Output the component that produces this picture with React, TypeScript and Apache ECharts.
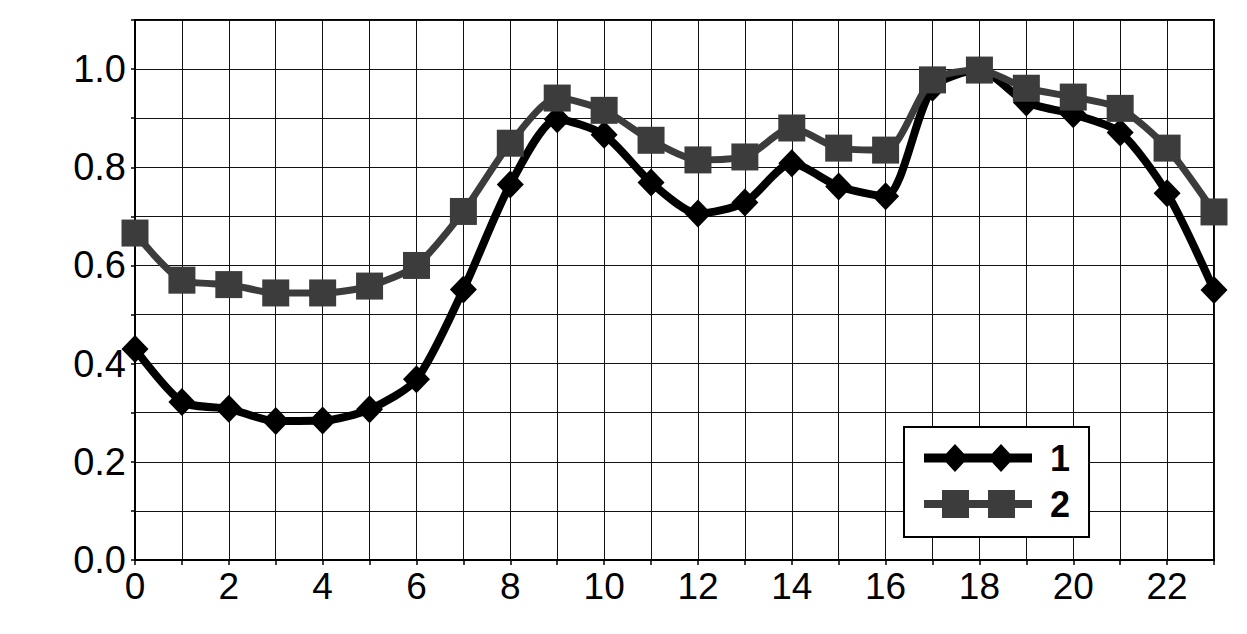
import React, { useEffect, useRef } from "react";
import * as echarts from "echarts";

const hours = [0, 1, 2, 3, 4, 5, 6, 7, 8, 9, 10, 11, 12, 13, 14, 15, 16, 17, 18, 19, 20, 21, 22, 23];
const series1 = [0.43, 0.322, 0.308, 0.283, 0.284, 0.307, 0.368, 0.551, 0.765, 0.898, 0.866, 0.769, 0.706, 0.728, 0.808, 0.761, 0.741, 0.962, 0.998, 0.932, 0.908, 0.871, 0.747, 0.55];
const series2 = [0.666, 0.57, 0.561, 0.544, 0.544, 0.558, 0.6, 0.71, 0.849, 0.941, 0.916, 0.855, 0.815, 0.821, 0.88, 0.839, 0.835, 0.978, 0.998, 0.961, 0.943, 0.92, 0.839, 0.709];
const seriesNames = ["1", "2"];

const FONT = "Liberation Sans, Arial, sans-serif";
const icon1 =
  "path://M0,9.5 L108,9.5 L108,18.5 L0,18.5 Z M31,0 L44,14 L31,28 L18,14 Z M77,0 L90,14 L77,28 L64,14 Z";
const icon2 =
  "path://M0,10 L108,10 L108,18 L0,18 Z M18,0 L45,0 L45,28 L18,28 Z M64,0 L91,0 L91,28 L64,28 Z";

export default function App() {
  const ref = useRef<HTMLDivElement>(null);
  useEffect(() => {
    if (!ref.current) return;
    const chart = echarts.init(ref.current, undefined, { renderer: "svg" });
    chart.setOption({
      animation: false,
      backgroundColor: "#fff",
      grid: {
        left: 135,
        right: 33,
        top: 20,
        bottom: 74,
        show: true,
        borderColor: "#000",
        borderWidth: 2,
        containLabel: false,
      },
      xAxis: {
        type: "value",
        min: 0,
        max: 23,
        interval: 1,
        axisLine: { show: true, lineStyle: { color: "#000", width: 2 } },
        axisTick: { show: true, inside: false, length: 5, lineStyle: { color: "#000", width: 1.5 } },
        splitLine: { show: true, lineStyle: { color: "#111", width: 1 } },
        axisLabel: {
          color: "#000",
          fontSize: 37,
          fontFamily: FONT,
          margin: 8,
          formatter: (v: number) => (Math.round(v) % 2 === 0 ? String(Math.round(v)) : ""),
        },
      },
      yAxis: {
        type: "value",
        min: 0,
        max: 1.1,
        interval: 0.1,
        axisLine: { show: true, lineStyle: { color: "#000", width: 2 } },
        axisTick: { show: true, inside: false, length: 4, lineStyle: { color: "#000", width: 1.5 } },
        splitLine: { show: true, lineStyle: { color: "#111", width: 1 } },
        axisLabel: {
          color: "#000",
          fontSize: 38,
          fontFamily: FONT,
          margin: 9,
          padding: [0, 0, 10, 0],
          formatter: (v: number) => {
            const t = Math.round(v * 10);
            return t % 2 === 0 && t <= 10 ? (t / 10).toFixed(1) : "";
          },
        },
      },
      legend: {
        orient: "vertical",
        left: 904,
        top: 427,
        padding: [13, 19, 15, 20],
        itemGap: 10,
        itemWidth: 108,
        itemHeight: 28,
        backgroundColor: "#fff",
        borderColor: "#000",
        borderWidth: 2,
        borderRadius: 0,
        itemStyle: { borderWidth: 0 },
        textStyle: {
          color: "#000",
          fontSize: 36,
          fontWeight: "bold",
          fontFamily: FONT,
          padding: [0, 0, 0, 13],
        },
        data: [
          { name: seriesNames[0], icon: icon1 },
          { name: seriesNames[1], icon: icon2 },
        ],
      },
      series: [
        {
          name: seriesNames[0],
          type: "line",
          data: hours.map((h, i) => [h, series1[i]]),
          smooth: 0.25,
          clip: false,
          symbol: "diamond",
          symbolSize: [27, 28],
          lineStyle: { color: "#000", width: 8 },
          itemStyle: { color: "#000" },
          z: 3,
        },
        {
          name: seriesNames[1],
          type: "line",
          data: hours.map((h, i) => [h, series2[i]]),
          smooth: 0.25,
          clip: false,
          symbol: "rect",
          symbolSize: 27,
          lineStyle: { color: "#3c3c3c", width: 7 },
          itemStyle: { color: "#3c3c3c" },
          z: 4,
        },
      ],
    });
    return () => chart.dispose();
  }, []);
  return (
    <div
      ref={ref}
      style={{ position: "fixed", left: 0, top: 0, width: 1247, height: 634 }}
    />
  );
}
